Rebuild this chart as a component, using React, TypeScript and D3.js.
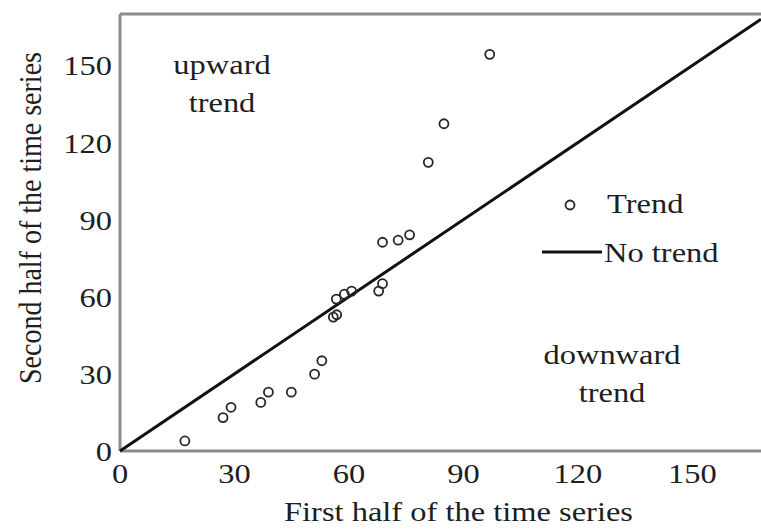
import React from "react";
import * as d3 from "d3";

// First-half vs second-half values for each series showing a trend
const firstHalf = [17.0, 27.0, 29.1, 36.9, 38.9, 44.9, 51.0, 52.9, 55.9, 56.8, 56.7, 58.8, 60.7, 67.8, 68.8, 68.8, 72.9, 75.9, 80.8, 84.9, 96.9];
const secondHalf = [3.9, 13.0, 17.0, 18.9, 22.9, 22.9, 29.9, 35.1, 52.1, 53.0, 59.1, 61.0, 62.2, 62.2, 65.1, 81.2, 82.0, 84.1, 112.3, 127.3, 154.3];

const xTicks = [0, 30, 60, 90, 120, 150];
const yTicks = [0, 30, 60, 90, 120, 150];

const xMax = 168;
const yMax = 170;

const W = 761;
const H = 529;
const margin = { left: 120, top: 14, right: 0, bottom: 78 };

const FONT = "'Liberation Serif', 'Times New Roman', serif";
const TXT = "#1e1e1e";
const AXIS = "#8c8c8c";
const FS = 28;
const SX = 1.16; // horizontal widening of the serif glyphs

type LabelProps = { x: number; y: number; anchor?: "start" | "middle" | "end"; children: React.ReactNode };

// Text whose glyphs are widened horizontally around its anchor point
function Label({ x, y, anchor = "start", children }: LabelProps) {
  return (
    <text
      transform={`translate(${x},${y}) scale(${SX},1)`}
      textAnchor={anchor}
      fontSize={FS}
      fill={TXT}
    >
      {children}
    </text>
  );
}

export default function App() {
  const x = d3.scaleLinear().domain([0, xMax]).range([margin.left, W - margin.right]);
  const y = d3.scaleLinear().domain([0, yMax]).range([H - margin.bottom, margin.top]);

  const lineEnd = Math.min(xMax, yMax);
  const diag = d3.line<number>().x((d) => x(d)).y((d) => y(d))([0, lineEnd]) || "";

  const points = firstHalf.map((v, i) => ({ fx: v, sx: secondHalf[i] }));

  return (
    <svg width={W} height={H} style={{ position: "absolute", left: 0, top: 0, background: "#fff" }} fontFamily={FONT}>
      {/* frame */}
      <line x1={x(0)} x2={x(0)} y1={y(yMax)} y2={y(0)} stroke={AXIS} strokeWidth={3} />
      <line x1={x(0)} x2={W} y1={y(0)} y2={y(0)} stroke={AXIS} strokeWidth={3} />
      <line x1={x(0)} x2={W} y1={y(yMax)} y2={y(yMax)} stroke={AXIS} strokeWidth={3} />

      {/* no-trend diagonal */}
      <path d={diag} stroke="#111" strokeWidth={3} fill="none" />

      {/* series with trend */}
      {points.map((p, i) => (
        <circle key={i} cx={x(p.fx)} cy={y(p.sx)} r={4.5} fill="none" stroke="#262626" strokeWidth={1.8} />
      ))}

      {/* x ticks */}
      {xTicks.map((t) => (
        <Label key={t} x={x(t)} y={483} anchor="middle">
          {t}
        </Label>
      ))}
      {/* y ticks */}
      {yTicks.map((t) => (
        <Label key={t} x={112} y={y(t) + 10} anchor="end">
          {t}
        </Label>
      ))}

      <Label x={(x(0) + W) / 2 + 18} y={521} anchor="middle">
        First half of the time series
      </Label>
      <text
        transform={`translate(41,218) scale(${SX},1) rotate(-90)`}
        textAnchor="middle"
        fontSize={FS}
        fill={TXT}
      >
        Second half of the time series
      </text>

      {/* region annotations */}
      <Label x={222} y={74} anchor="middle">upward</Label>
      <Label x={222} y={112} anchor="middle">trend</Label>
      <Label x={612} y={364} anchor="middle">downward</Label>
      <Label x={612} y={402} anchor="middle">trend</Label>

      {/* legend */}
      <circle cx={570} cy={205} r={4.5} fill="none" stroke="#262626" strokeWidth={1.8} />
      <Label x={607} y={213}>Trend</Label>
      <line x1={542} x2={602} y1={252} y2={252} stroke="#111" strokeWidth={3} />
      <Label x={604} y={262}>No trend</Label>
    </svg>
  );
}
